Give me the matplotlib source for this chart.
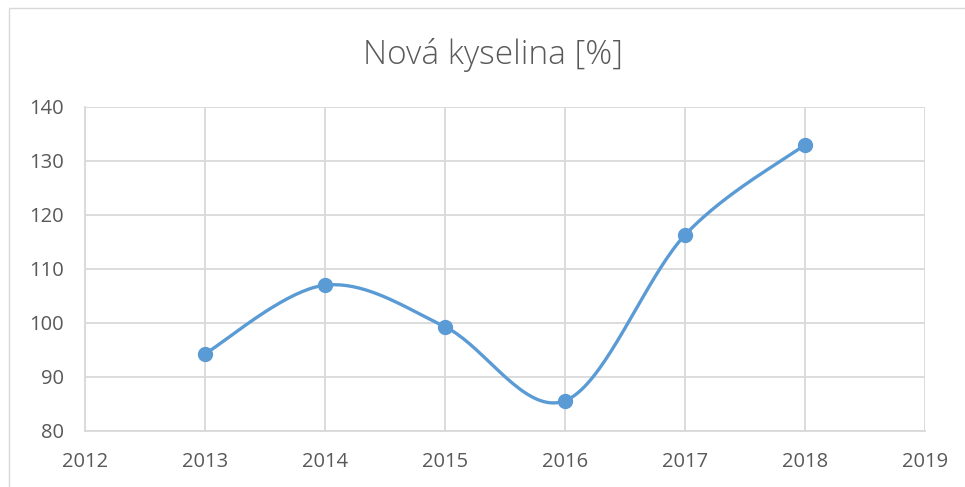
import numpy as np
import matplotlib
matplotlib.use("Agg")
import matplotlib.pyplot as plt
from matplotlib.patches import Rectangle

years = [2013, 2014, 2015, 2016, 2017, 2018]
values = [94.3, 107.0, 99.3, 85.6, 116.3, 133.0]
x_ticks = [2012, 2013, 2014, 2015, 2016, 2017, 2018, 2019]
y_ticks = [80, 90, 100, 110, 120, 130, 140]
title = "Nová kyselina [%]"

color = "#5B9BD5"
grid_c = "#D9D9D9"
text_c = "#595959"
font = "Open Sans"


def smooth(xs, ys, n=40):
    xs = np.asarray(xs, float)
    ys = np.asarray(ys, float)
    px = np.concatenate([[xs[0]], xs, [xs[-1]]])
    py = np.concatenate([[ys[0]], ys, [ys[-1]]])
    ox, oy = [], []
    t = np.linspace(0, 1, n)
    for i in range(1, len(px) - 2):
        p0 = np.array([px[i], py[i]])
        p3 = np.array([px[i + 1], py[i + 1]])
        c1 = p0 + (np.array([px[i + 1], py[i + 1]]) - np.array([px[i - 1], py[i - 1]])) / 6
        c2 = p3 - (np.array([px[i + 2], py[i + 2]]) - np.array([px[i], py[i]])) / 6
        b = ((1 - t) ** 3)[:, None] * p0 + (3 * (1 - t) ** 2 * t)[:, None] * c1 \
            + (3 * (1 - t) * t ** 2)[:, None] * c2 + (t ** 3)[:, None] * p3
        ox.extend(b[:, 0])
        oy.extend(b[:, 1])
    return ox, oy


fig = plt.figure(figsize=(9.65, 4.87), dpi=100)
fig.patch.set_facecolor("white")
fig.patches.append(Rectangle((9 / 965, -0.1), 1.2, (487 - 8) / 487 + 0.1,
                             transform=fig.transFigure, fill=False,
                             edgecolor=grid_c, linewidth=1.0))

ax = fig.add_axes([85 / 965, 1 - 431 / 487, 840 / 965, 324 / 487])
ax.set_xlim(2012, 2019)
ax.set_ylim(80, 140)
ax.set_xticks(x_ticks)
ax.set_yticks(y_ticks)
ax.set_xticklabels([str(v) for v in x_ticks])
ax.set_yticklabels([str(v) for v in y_ticks])
ax.grid(True, color=grid_c, linewidth=1.3)
ax.set_axisbelow(True)
for s in ["top", "right"]:
    ax.spines[s].set_visible(False)
for s in ["left", "bottom"]:
    ax.spines[s].set_color(grid_c)
    ax.spines[s].set_linewidth(1.3)
ax.tick_params(length=0, colors=text_c, labelsize=14.5)
ax.tick_params(axis="x", pad=15)
ax.tick_params(axis="y", pad=15)
for lab in ax.get_xticklabels() + ax.get_yticklabels():
    lab.set_fontfamily(font)

sx, sy = smooth(years, values)
ax.plot(sx, sy, color=color, linewidth=2.4, solid_capstyle="round", clip_on=False)
ax.plot(years, values, "o", color=color, markersize=10, clip_on=False)

fig.text(493 / 965, 1 - 55 / 487, title, ha="center", va="center",
         fontsize=24, color=text_c, fontfamily=font, fontweight="light")

fig.savefig("out.png", dpi=100, facecolor="white")
